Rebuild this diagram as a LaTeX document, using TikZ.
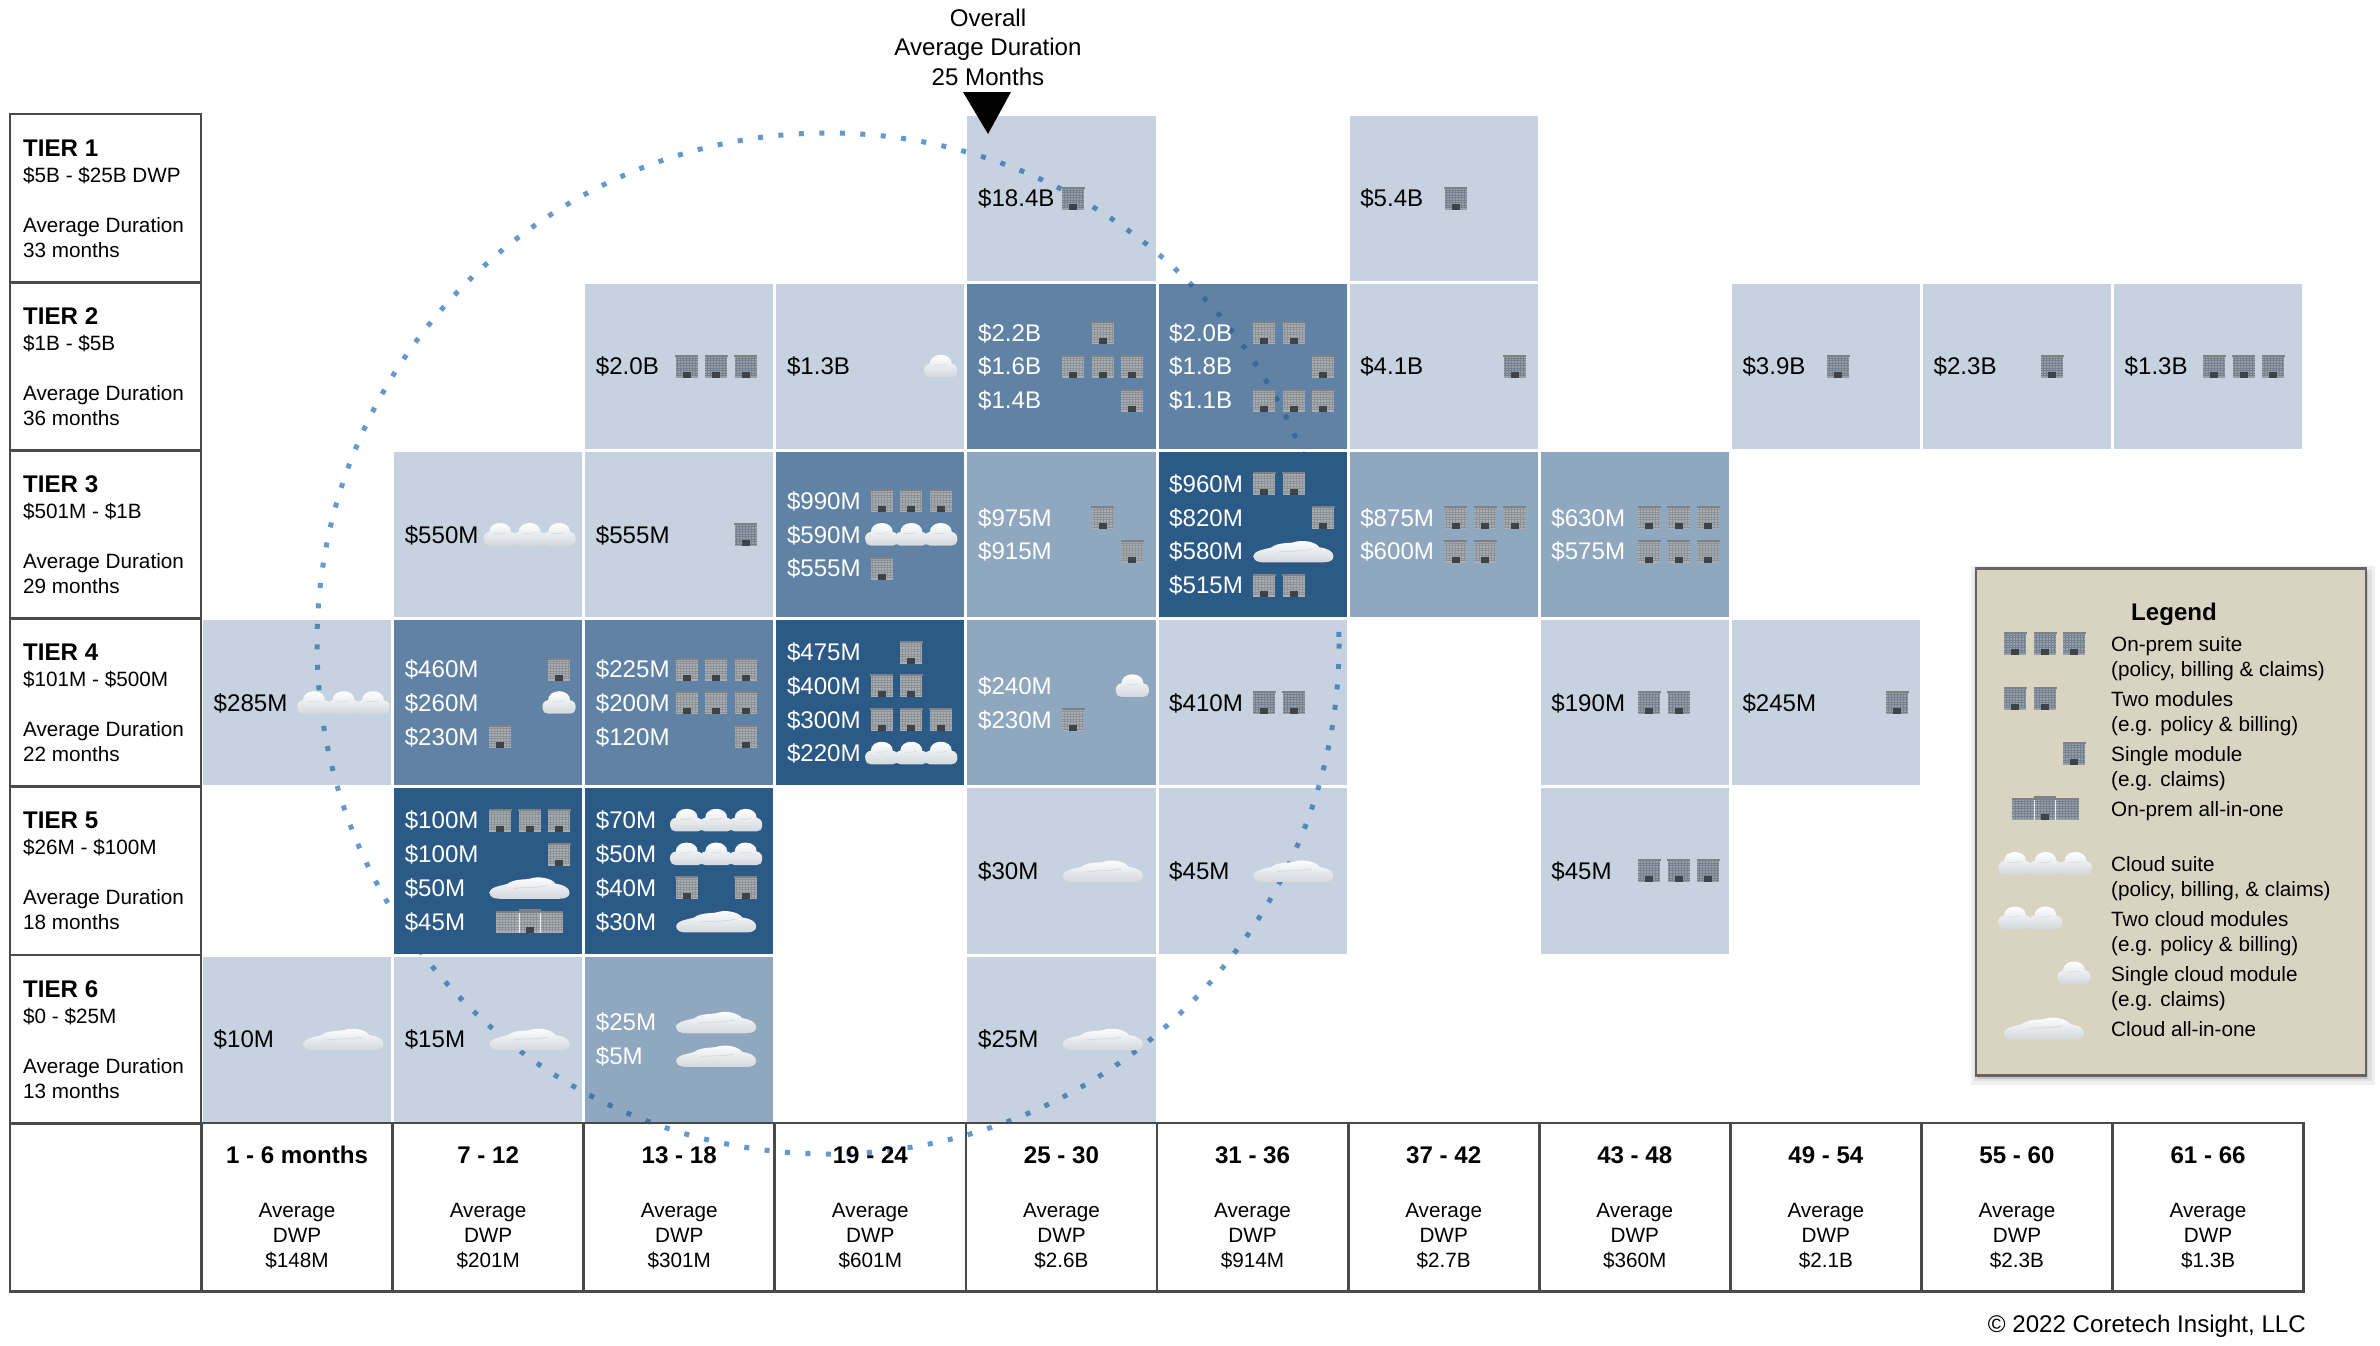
\documentclass[tikz,border=0pt]{standalone}
\usepackage{fontspec}
\setmainfont{Liberation Sans}
\usetikzlibrary{shadows}
\definecolor{cellblue}{HTML}{2B5A87}
\definecolor{dotblue}{HTML}{6399CD}
\definecolor{framegray}{HTML}{4A4A4A}
\definecolor{legendbg}{HTML}{D9D4C1}
\definecolor{bldwhite}{HTML}{A9AEB2}
\definecolor{bldblack}{HTML}{939FAA}
\definecolor{gridwhite}{HTML}{8C9298}
\definecolor{gridblack}{HTML}{75828E}
\colorlet{bldbase}{bldwhite}
\colorlet{bldgrid}{gridwhite}
\definecolor{bldtop}{HTML}{7E8286}
\definecolor{bldoor}{HTML}{3E4349}
\definecolor{cloudshade}{HTML}{D3D8DD}
\newcommand{\fsBig}{\fontsize{24.1}{29}\selectfont}
\newcommand{\fsSmall}{\fontsize{20.7}{25}\selectfont}
\tikzset{
  x=1pt,y=-1pt,
  cellbox/.style={rectangle,minimum width=188.1pt,minimum height=165.2pt,inner sep=0pt,fill=cellblue,draw=none},
  lightcell/.style={cellbox,fill opacity=.27},
  midcell/.style={cellbox,fill opacity=.53},
  deepcell/.style={cellbox,fill opacity=.75},
  darkcell/.style={cellbox,fill opacity=1},
  framebox/.style={rectangle,draw=framegray,line width=2.8pt,inner sep=0pt,minimum height=168.2pt},
  valtext/.style={anchor=base west,inner sep=0pt,font=\fsBig},
  lab/.style={anchor=base west,inner sep=0pt,font=\fsSmall},
  labbold/.style={anchor=base west,inner sep=0pt,font=\fsBig\bfseries},
  ctr/.style={anchor=base,inner sep=0pt,font=\fsSmall},
  ctrbold/.style={anchor=base,inner sep=0pt,font=\fsBig\bfseries},
  ctrbig/.style={anchor=base,inner sep=0pt,font=\fsBig},
  cloudfill/.style={top color=white,middle color=white,bottom color=cloudshade},
  icb/.pic={
    \fill[bldbase] (-11,-11.5) rectangle (11,11.5);
    \foreach \g in {-8,-5.5,-3,-0.5,2,4.5,7,9.5}{\draw[bldgrid,line width=.8pt] (-11,\g) -- (11,\g);}
    \foreach \g in {-9,-6,-3,0,3,6,9}{\draw[bldgrid,line width=.8pt] (\g,-9.5) -- (\g,10);}
    \fill[bldtop] (-11.5,-11.5) rectangle (11.5,-9.5);
    \fill[bldoor] (-4,5.5) rectangle (4,11.5);
  },
  icB/.pic={
    \fill[bldbase] (-33.5,-10.5) rectangle (33.5,11.5);
    \fill[bldbase] (-11,-12.5) rectangle (11,11.5);
    \foreach \g in {-7,-4.5,-2,0.5,3,5.5,8}{\draw[bldgrid,line width=.8pt] (-33.5,\g) -- (33.5,\g);}
    \foreach \g in {-30,-27,-24,-21,-18,-15,-8,-5,-2,1,4,7,14,17,20,23,26,29,32}{\draw[bldgrid,line width=.8pt] (\g,-9) -- (\g,11);}
    \fill[bldtop] (-33.5,-10.5) rectangle (33.5,-8.5);
    \fill[bldtop] (-11,-12.5) rectangle (11,-10.5);
    \fill[white!80!bldbase] (-11,-8.5) rectangle (-10,11.5);
    \fill[white!80!bldbase] (10,-8.5) rectangle (11,11.5);
    \fill[bldoor] (-4,6) rectangle (4,11.5);
  },
  icc/.pic={
    \path[cloudfill] (-16.5,6) .. controls (-17.5,1) and (-15,-2) .. (-11,-2.5)
      .. controls (-11,-8) and (-6,-11.5) .. (0,-11.5)
      .. controls (6,-11.5) and (11,-8) .. (11,-2.5)
      .. controls (15,-2) and (17,1) .. (16.5,6)
      .. controls (16.5,9) and (14,11) .. (11,11) -- (-11,11)
      .. controls (-14,11) and (-16.5,9) .. (-16.5,6) -- cycle;
    \draw[cloudshade,line width=.6pt] (-6,-1) .. controls (-3,-2) and (0,0) .. (5,-2);
  },
  icw/.pic={
    \path[cloudfill] (-40,5) .. controls (-40,-1) and (-28,-2) .. (-22,-4)
      .. controls (-16,-9) and (-4,-8) .. (0,-9)
      .. controls (8,-12) and (22,-10) .. (26,-4)
      .. controls (34,-3) and (40,0) .. (40,5)
      .. controls (40,9) and (36,11) .. (30,11) -- (-30,11)
      .. controls (-36,11) and (-40,9) .. (-40,5) -- cycle;
    \draw[cloudshade,line width=.7pt] (-16,1) .. controls (-6,-1) and (2,1) .. (18,-2);
  }
}
% a cell of the matrix
\newcommand{\Cell}[3]{%
  \pgfmathsetmacro\CX{201.5+191.1*(#1-.5)}%
  \pgfmathsetmacro\CY{114+168.2*(#2-.5)}%
  \node[#3] (c#1r#2) at (\CX,\CY) {};%
}
% [colour]{col}{row}{lines in cell}{line}{text}{icon list}
\newcommand{\V}[7][black]{%
  \pgfmathsetmacro\EX{201.5+191.1*(#2-1)}%
  \pgfmathsetmacro\EY{114+168.2*(#3-.5)+(#5-(#4+1)/2)*33.7}%
  \pgfmathsetmacro\BY{\EY+8.6}%
  \pgfmathsetmacro\TX{\EX+12}%
  \pgfmathsetmacro\SlotMid{{142,137,132.5,136.5,137,136.5,137,139.5,137.5,131,131}[int(#2-1)]}%
  \colorlet{bldbase}{bld#1}\colorlet{bldgrid}{grid#1}%
  \foreach \k/\s in {#7}{%
    \pgfmathsetmacro\IX{\EX+\SlotMid+29.5*\s}%
    \pic at (\IX,\EY) {ic\k};%
  }%
  \node[valtext,text=#1] (v#2r#3i#5) at (\TX,\BY) {#6};%
}
% tier label
\newcommand{\Tier}[3]{%
  \pgfmathsetmacro\TY{114+168.2*(#1-1)}%
  \pgfmathsetmacro\TC{\TY+84.1}%
  \node[framebox,minimum width=191pt] (t#1) at (105.5,\TC) {};%
  \pgfmathsetmacro\La{\TY+42}\pgfmathsetmacro\Lb{\TY+68}\pgfmathsetmacro\Lc{\TY+118}\pgfmathsetmacro\Ld{\TY+143}%
  \node[labbold] (t#1a) at (23,\La) {TIER #1};%
  \node[lab] (t#1b) at (23,\Lb) {#2};%
  \node[lab] (t#1c) at (23,\Lc) {Average Duration};%
  \node[lab] (t#1d) at (23,\Ld) {#3 months};%
}
% column footer
\newcommand{\Foot}[3]{%
  \pgfmathsetmacro\FX{201.5+191.1*(#1-.5)}%
  \node[framebox,minimum width=191.1pt] (f#1) at (\FX,1207) {};%
  \node[ctrbold] (f#1a) at (\FX,1163) {#2};%
  \node[ctr] (f#1b) at (\FX,1217.5) {Average};%
  \node[ctr] (f#1c) at (\FX,1242.5) {DWP};%
  \node[ctr] (f#1d) at (\FX,1267.5) {#3};%
}
\newcommand{\Lg}[3]{\node[lab] (#1) at (2111,#2) {#3};}
\begin{document}
\begin{tikzpicture}
\useasboundingbox (0,0) rectangle (2380,1345);
% dotted circle lies behind the translucent cells
\draw[dotblue,line width=5pt,dash pattern=on 5pt off 15.5pt] (828,643.5) ellipse [x radius=511,y radius=510.5];
% cells
\Cell{5}{1}{lightcell}\Cell{7}{1}{lightcell}
\Cell{3}{2}{lightcell}\Cell{4}{2}{lightcell}\Cell{5}{2}{deepcell}\Cell{6}{2}{deepcell}\Cell{7}{2}{lightcell}\Cell{9}{2}{lightcell}\Cell{10}{2}{lightcell}\Cell{11}{2}{lightcell}
\Cell{2}{3}{lightcell}\Cell{3}{3}{lightcell}\Cell{4}{3}{deepcell}\Cell{5}{3}{midcell}\Cell{6}{3}{darkcell}\Cell{7}{3}{midcell}\Cell{8}{3}{midcell}
\Cell{1}{4}{lightcell}\Cell{2}{4}{deepcell}\Cell{3}{4}{deepcell}\Cell{4}{4}{darkcell}\Cell{5}{4}{midcell}\Cell{6}{4}{lightcell}\Cell{8}{4}{lightcell}\Cell{9}{4}{lightcell}
\Cell{2}{5}{darkcell}\Cell{3}{5}{darkcell}\Cell{5}{5}{lightcell}\Cell{6}{5}{lightcell}\Cell{8}{5}{lightcell}
\Cell{1}{6}{lightcell}\Cell{2}{6}{lightcell}\Cell{3}{6}{midcell}\Cell{5}{6}{lightcell}
% row 1
\V{5}{1}{1}{1}{\$18.4B}{b/-1}
\V{7}{1}{1}{1}{\$5.4B}{b/-1}
% row 2
\V{3}{2}{1}{1}{\$2.0B}{b/-1,b/0,b/1}
\V{4}{2}{1}{1}{\$1.3B}{c/1}
\V[white]{5}{2}{3}{1}{\$2.2B}{b/0}
\V[white]{5}{2}{3}{2}{\$1.6B}{b/-1,b/0,b/1}
\V[white]{5}{2}{3}{3}{\$1.4B}{b/1}
\V[white]{6}{2}{3}{1}{\$2.0B}{b/-1,b/0}
\V[white]{6}{2}{3}{2}{\$1.8B}{b/1}
\V[white]{6}{2}{3}{3}{\$1.1B}{b/-1,b/0,b/1}
\V{7}{2}{1}{1}{\$4.1B}{b/1}
\V{9}{2}{1}{1}{\$3.9B}{b/-1}
\V{10}{2}{1}{1}{\$2.3B}{b/0}
\V{11}{2}{1}{1}{\$1.3B}{b/-1,b/0,b/1}
% row 3
\V{2}{3}{1}{1}{\$550M}{c/-1,c/0,c/1}
\V{3}{3}{1}{1}{\$555M}{b/1}
\V[white]{4}{3}{3}{1}{\$990M}{b/-1,b/0,b/1}
\V[white]{4}{3}{3}{2}{\$590M}{c/-1,c/0,c/1}
\V[white]{4}{3}{3}{3}{\$555M}{b/-1}
\V[white]{5}{3}{2}{1}{\$975M}{b/0}
\V[white]{5}{3}{2}{2}{\$915M}{b/1}
\V[white]{6}{3}{4}{1}{\$960M}{b/-1,b/0}
\V[white]{6}{3}{4}{2}{\$820M}{b/1}
\V[white]{6}{3}{4}{3}{\$580M}{w/0}
\V[white]{6}{3}{4}{4}{\$515M}{b/-1,b/0}
\V[white]{7}{3}{2}{1}{\$875M}{b/-1,b/0,b/1}
\V[white]{7}{3}{2}{2}{\$600M}{b/-1,b/0}
\V[white]{8}{3}{2}{1}{\$630M}{b/-1,b/0,b/1}
\V[white]{8}{3}{2}{2}{\$575M}{b/-1,b/0,b/1}
% row 4
\V{1}{4}{1}{1}{\$285M}{c/-1,c/0,c/1}
\V[white]{2}{4}{3}{1}{\$460M}{b/1}
\V[white]{2}{4}{3}{2}{\$260M}{c/1}
\V[white]{2}{4}{3}{3}{\$230M}{b/-1}
\V[white]{3}{4}{3}{1}{\$225M}{b/-1,b/0,b/1}
\V[white]{3}{4}{3}{2}{\$200M}{b/-1,b/0,b/1}
\V[white]{3}{4}{3}{3}{\$120M}{b/1}
\V[white]{4}{4}{4}{1}{\$475M}{b/0}
\V[white]{4}{4}{4}{2}{\$400M}{b/-1,b/0}
\V[white]{4}{4}{4}{3}{\$300M}{b/-1,b/0,b/1}
\V[white]{4}{4}{4}{4}{\$220M}{c/-1,c/0,c/1}
\V[white]{5}{4}{2}{1}{\$240M}{c/1}
\V[white]{5}{4}{2}{2}{\$230M}{b/-1}
\V{6}{4}{1}{1}{\$410M}{b/-1,b/0}
\V{8}{4}{1}{1}{\$190M}{b/-1,b/0}
\V{9}{4}{1}{1}{\$245M}{b/1}
% row 5
\V[white]{2}{5}{4}{1}{\$100M}{b/-1,b/0,b/1}
\V[white]{2}{5}{4}{2}{\$100M}{b/1}
\V[white]{2}{5}{4}{3}{\$50M}{w/0}
\V[white]{2}{5}{4}{4}{\$45M}{B/0}
\V[white]{3}{5}{4}{1}{\$70M}{c/-1,c/0,c/1}
\V[white]{3}{5}{4}{2}{\$50M}{c/-1,c/0,c/1}
\V[white]{3}{5}{4}{3}{\$40M}{b/-1,b/1}
\V[white]{3}{5}{4}{4}{\$30M}{w/0}
\V{5}{5}{1}{1}{\$30M}{w/0}
\V{6}{5}{1}{1}{\$45M}{w/0}
\V{8}{5}{1}{1}{\$45M}{b/-1,b/0,b/1}
% row 6
\V{1}{6}{1}{1}{\$10M}{w/0}
\V{2}{6}{1}{1}{\$15M}{w/0}
\V[white]{3}{6}{2}{1}{\$25M}{w/0}
\V[white]{3}{6}{2}{2}{\$5M}{w/0}
\V{5}{6}{1}{1}{\$25M}{w/0}
% tier labels
\Tier{1}{\$5B - \$25B DWP}{33}
\Tier{2}{\$1B - \$5B}{36}
\Tier{3}{\$501M - \$1B}{29}
\Tier{4}{\$101M - \$500M}{22}
\Tier{5}{\$26M - \$100M}{18}
\Tier{6}{\$0 - \$25M}{13}
% footer
\node[framebox,minimum width=191pt] (f0) at (105.5,1207) {};
\Foot{1}{1 - 6 months}{\$148M}
\Foot{2}{7 - 12}{\$201M}
\Foot{3}{13 - 18}{\$301M}
\Foot{4}{19 - 24}{\$601M}
\Foot{5}{25 - 30}{\$2.6B}
\Foot{6}{31 - 36}{\$914M}
\Foot{7}{37 - 42}{\$2.7B}
\Foot{8}{43 - 48}{\$360M}
\Foot{9}{49 - 54}{\$2.1B}
\Foot{10}{55 - 60}{\$2.3B}
\Foot{11}{61 - 66}{\$1.3B}
% overall marker
\node[ctrbig] (ov1) at (988,26.5) {Overall};
\node[ctrbig] (ov2) at (988,55.5) {Average Duration};
\node[ctrbig] (ov3) at (988,85) {25 Months};
\fill[black] (963,92) -- (1011,92) -- (988,134) -- cycle;
% legend
\fill[black,opacity=.06] (1971,566) rectangle (2375,1085);
\fill[black,opacity=.07] (1974,570) rectangle (2372,1081);
\node[rectangle,inner sep=0pt,minimum width=390pt,minimum height=507pt,fill=legendbg,draw=framegray!85,line width=2.5pt,drop shadow={shadow xshift=2pt,shadow yshift=-3pt,opacity=.25}] (legend) at (2171,822) {};
\node[ctrbold] (lgt) at (2174,620) {Legend};
\Lg{l1}{651.5}{On-prem suite}
\Lg{l1b}{676.5}{(policy, billing \& claims)}
\Lg{l2}{706.5}{Two modules}
\Lg{l2b}{731.5}{(e.g. policy \& billing)}
\Lg{l3}{761.5}{Single module}
\Lg{l3b}{786.5}{(e.g. claims)}
\Lg{l4}{816.5}{On-prem all-in-one}
\Lg{l5}{871}{Cloud suite}
\Lg{l5b}{896.5}{(policy, billing, \& claims)}
\Lg{l6}{926.5}{Two cloud modules}
\Lg{l6b}{951.5}{(e.g. policy \& billing)}
\Lg{l7}{981.5}{Single cloud module}
\Lg{l7b}{1006.5}{(e.g. claims)}
\Lg{l8}{1036.5}{Cloud all-in-one}
\colorlet{bldbase}{bldblack}\colorlet{bldgrid}{gridblack}
\pic at (2015,643) {icb};\pic at (2045,643) {icb};\pic at (2074,643) {icb};
\pic at (2015,698) {icb};\pic at (2045,698) {icb};
\pic at (2074,753) {icb};
\pic at (2045,808) {icB};
\pic at (2015,863.5) {icc};\pic at (2045.5,863.5) {icc};\pic at (2075.5,863.5) {icc};
\pic at (2015,918) {icc};\pic at (2045.5,918) {icc};
\pic at (2074,973) {icc};
\pic at (2044,1028) {icw};
% copyright
\node[anchor=base east,inner sep=0pt,font=\fsBig] (copy) at (2306,1332) {© 2022 Coretech Insight, LLC};
\end{tikzpicture}
\end{document}
